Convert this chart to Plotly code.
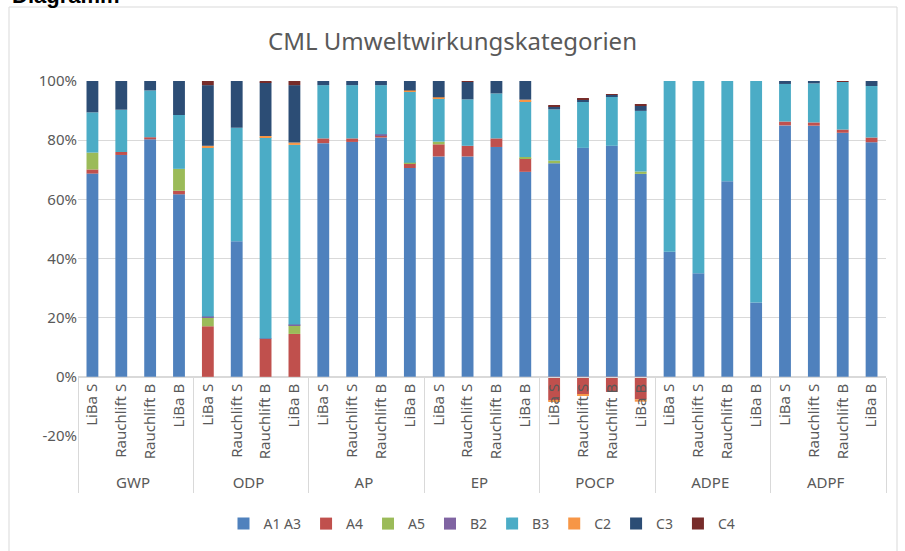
import plotly.graph_objects as go

groups = ["GWP", "ODP", "AP", "EP", "POCP", "ADPE", "ADPF"]
variants = ["LiBa S", "Rauchlift S", "Rauchlift B", "LiBa B"]
y_tickvals = [-20, 0, 20, 40, 60, 80, 100]
y_ticktext = ["-20%", "0%", "20%", "40%", "60%", "80%", "100%"]

A1A3 = [68.7, 75.0, 80.3, 61.7,  0.0, 45.8, 0.0, 0.0,  79.0, 79.4, 80.9, 70.6,
        74.5, 74.5, 77.7, 69.3,  72.2, 77.4, 78.1, 68.6,  42.3, 35.0, 66.1, 25.1,
        85.0, 84.9, 82.5, 79.3]
A4 = [1.4, 1.0, 0.7, 1.2,  17.1, 0.0, 12.8, 14.5,  1.6, 1.2, 0.8, 1.6,
      4.1, 3.6, 2.9, 4.6,  -8.0, -5.9, -5.1, -7.6,  0, 0, 0, 0,
      1.3, 1.1, 1.1, 1.6]
A5 = [5.7, 0, 0, 7.4,  3.0, 0, 0, 3.0,  0, 0, 0, 0.2,
      0.9, 0, 0, 0.4,  0.9, 0, 0, 0.8,  0, 0, 0, 0,
      0, 0, 0, 0]
B2 = [0, 0, 0, 0,  0.3, 0, 0.2, 0.2,  0, 0, 0.3, 0,
      0, 0, 0, 0,  0, 0, 0, 0,  0, 0, 0, 0,
      0, 0, 0, 0]
B3 = [13.6, 14.3, 15.8, 18.2,  57.1, 38.4, 68.0, 60.7,  18.0, 18.0, 16.6, 24.1,
      14.7, 15.7, 15.2, 18.9,  17.3, 15.5, 16.6, 20.5,  57.7, 65.0, 33.9, 74.9,
      12.7, 13.2, 16.1, 17.4]
C2 = [0, 0, 0, 0,  0.6, 0, 0.4, 0.8,  0, 0, 0, 0.3,
      0.3, 0, 0, 0.5,  -0.3, -0.3, 0, -0.8,  0, 0, 0, 0,
      0, 0, 0, 0]
C3 = [10.6, 9.7, 3.2, 11.5,  20.5, 15.8, 18.1, 19.4,  1.4, 1.4, 1.4, 3.2,
      5.5, 5.9, 4.2, 6.3,  1.0, 1.0, 0.6, 1.7,  0, 0, 0, 0,
      1.0, 0.8, 0, 1.7]
C4 = [0, 0, 0, 0,  1.4, 0, 0.5, 1.4,  0, 0, 0, 0,
      0, 0.3, 0, 0,  0.4, 0.3, 0.3, 0.4,  0, 0, 0, 0,
      0, 0, 0.3, 0]

series = [("A1 A3", A1A3, "#4F81BD"), ("A4", A4, "#C0504D"), ("A5", A5, "#9BBB59"),
          ("B2", B2, "#8064A2"), ("B3", B3, "#4BACC6"), ("C2", C2, "#F79646"),
          ("C3", C3, "#2C4D75"), ("C4", C4, "#772C2A")]

xg = [g for g in groups for _ in variants]
xv = [v for _ in groups for v in variants]

fig = go.Figure()
for name, vals, col in series:
    fig.add_trace(go.Bar(x=[xg, xv], y=vals, name=name, marker_color=col,
                         marker_line_width=0))

grid = "#D9D9D9"
txt = "#595959"
fig.update_layout(
    width=905, height=551,
    barmode="relative", bargap=0.59,
    plot_bgcolor="white", paper_bgcolor="white",
    margin=dict(l=78, r=19, t=81, b=115, autoexpand=False),
    font=dict(family="Noto Sans", size=15, color=txt),
    title=dict(text="CML Umweltwirkungskategorien", x=0.5, xanchor="center",
               y=1 - 42 / 551, yanchor="middle",
               font=dict(family="Noto Sans", size=24, color=txt)),
    legend=dict(orientation="h", x=0.5, xanchor="center", y=(436 - 524) / 355,
                yanchor="middle", font=dict(size=14, color=txt),
                itemwidth=30, tracegroupgap=0),
    yaxis=dict(range=[-20, 100], tickvals=y_tickvals, ticktext=y_ticktext,
               gridcolor=grid, zeroline=True, zerolinecolor=grid, showline=False,
               automargin=False, tickfont=dict(size=15, color=txt), ticklen=0),
    xaxis=dict(type="multicategory", anchor="free", position=1 / 6,
               tickangle=-90, showline=True, linecolor=grid, automargin=False,
               showdividers=True, dividercolor=grid, dividerwidth=1,
               tickfont=dict(size=15, color=txt)),
    showlegend=True,
)

fig.add_shape(type="rect", xref="paper", yref="paper",
              x0=(9 - 78) / 808, x1=(897 - 78) / 808,
              y0=(436 - 560) / 355, y1=(436 - 7) / 355,
              line=dict(color="#D9D9D9", width=1), layer="below")

fig.add_annotation(text="<b>Diagramm</b>", xref="paper", yref="paper",
                   x=(10 - 78) / 808, xanchor="left",
                   y=(436 + 5) / 355, yanchor="middle", showarrow=False,
                   font=dict(family="Liberation Sans", size=22, color="black"))

fig.write_html("out.html", config={"displayModeBar": False},
               post_script="document.body.style.margin='0px';"
                           "document.body.style.overflow='hidden';")
